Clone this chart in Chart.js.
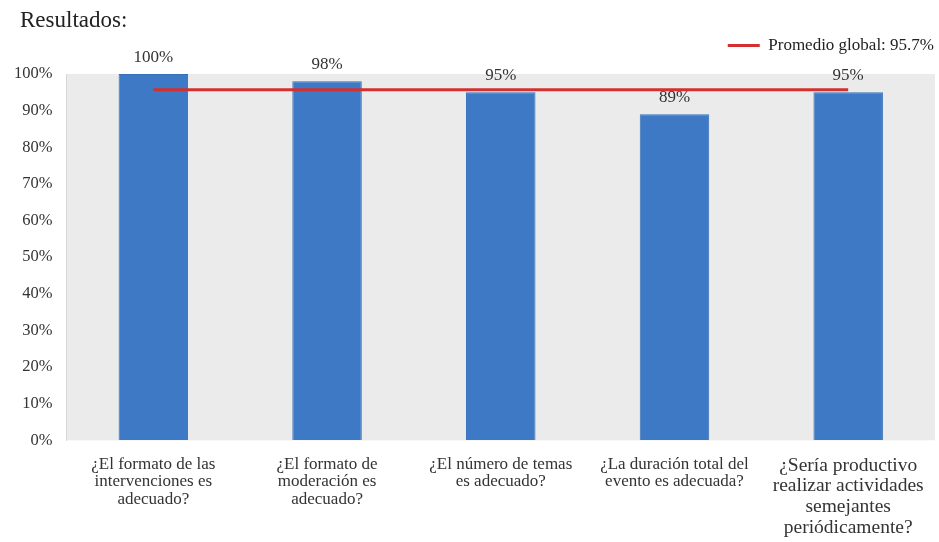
<!DOCTYPE html>
<html lang="es">
<head>
<meta charset="UTF-8">
<title>Resultados</title>
<script src="https://cdn.jsdelivr.net/npm/chart.js@4.4.0/dist/chart.umd.min.js"></script>
<style>
  * { margin: 0; padding: 0; box-sizing: border-box; }
  body { background: #fff; width: 939px; height: 542px; overflow: hidden; }
  #wrap { position: relative; width: 939px; height: 542px; }
</style>
</head>
<body>
<div id="wrap"><canvas id="chart"></canvas></div>
<script>
// preguntas (categorías)
const preguntas = [
  ['¿El formato de las', 'intervenciones es', 'adecuado?'],
  ['¿El formato de', 'moderación es', 'adecuado?'],
  ['¿El número de temas', 'es adecuado?'],
  ['¿La duración total del', 'evento es adecuada?'],
  ['¿Sería productivo', 'realizar actividades', 'semejantes', 'periódicamente?']
];
const resultados = [100, 98, 95, 89, 95];
const promedio = [95.7, 95.7, 95.7, 95.7, 95.7];
const etiquetaPromedio = 'Promedio global: 95.7%';
const titulo = 'Resultados:';
const ticksY = [0, 10, 20, 30, 40, 50, 60, 70, 80, 90, 100];

const SERIF = '"Liberation Serif", "DejaVu Serif", serif';

// fondo gris del área de trazado + título arriba a la izquierda
const fondoPlot = {
  id: 'fondoPlot',
  beforeDraw(chart) {
    const { ctx, chartArea: a } = chart;
    ctx.save();
    ctx.fillStyle = '#ebebeb';
    ctx.fillRect(a.left, a.top, a.right - a.left, a.bottom - a.top);
    ctx.fillStyle = '#222';
    ctx.font = '23px ' + SERIF;
    ctx.textAlign = 'left';
    ctx.textBaseline = 'middle';
    ctx.fillText(titulo, 20, 21);
    ctx.restore();
  }
};

// etiquetas de valor encima de cada barra
const etiquetasBarras = {
  id: 'etiquetasBarras',
  afterDatasetsDraw(chart) {
    const { ctx } = chart;
    const meta = chart.getDatasetMeta(1);
    ctx.save();
    ctx.font = '17px ' + SERIF;
    ctx.fillStyle = '#333';
    ctx.textAlign = 'center';
    ctx.textBaseline = 'bottom';
    meta.data.forEach((bar, i) => {
      ctx.fillText(resultados[i] + '%', bar.x, bar.y - 8);
    });
    ctx.restore();
  }
};

// espacio extra debajo de la leyenda
const margenLeyenda = {
  id: 'margenLeyenda',
  beforeInit(chart) {
    const fit = chart.legend.fit;
    chart.legend.fit = function () {
      fit.bind(chart.legend)();
      this.height += 10;
    };
  }
};

new Chart(document.getElementById('chart'), {
  data: {
    labels: preguntas,
    datasets: [
      {
        type: 'line',
        label: etiquetaPromedio,
        data: promedio,
        borderColor: '#d2312f',
        backgroundColor: '#d2312f',
        borderWidth: 3,
        pointRadius: 0,
        order: 0
      },
      {
        type: 'bar',
        label: 'Resultados',
        data: resultados,
        backgroundColor: '#3d79c5',
        borderColor: '#3670b8',
        borderWidth: 1,
        barPercentage: 1,
        categoryPercentage: 0.4,
        order: 1
      }
    ]
  },
  options: {
    responsive: true,
    maintainAspectRatio: false,
    animation: false,
    layout: { padding: { left: 0, right: 3, top: 35, bottom: -11 } },
    plugins: {
      title: { display: false },
      legend: {
        display: true,
        align: 'end',
        labels: {
          filter: item => item.text === etiquetaPromedio,
          usePointStyle: true,
          pointStyle: 'line',
          pointStyleWidth: 32,
          color: '#222',
          font: { family: SERIF, size: 17 },
          padding: 2
        }
      },
      tooltip: { enabled: false }
    },
    scales: {
      x: {
        grid: { display: false, drawTicks: false },
        border: { display: false },
        ticks: {
          color: '#333',
          maxRotation: 0,
          autoSkip: false,
          padding: 15,
          font: ctx => ({
            family: SERIF,
            size: ctx.index === 4 ? 19.5 : 17,
            lineHeight: ctx.index === 4 ? 1.06 : 1.04
          })
        }
      },
      y: {
        min: 0,
        max: 100,
        afterBuildTicks: axis => { axis.ticks = ticksY.map(v => ({ value: v })); },
        grid: { display: false, drawTicks: false },
        border: { display: true, color: '#d6d6d6', width: 1 },
        ticks: {
          color: '#333',
          padding: 14,
          font: { family: SERIF, size: 16.5 },
          callback: v => v + '%'
        }
      }
    }
  },
  plugins: [fondoPlot, etiquetasBarras, margenLeyenda]
});
</script>
</body>
</html>
